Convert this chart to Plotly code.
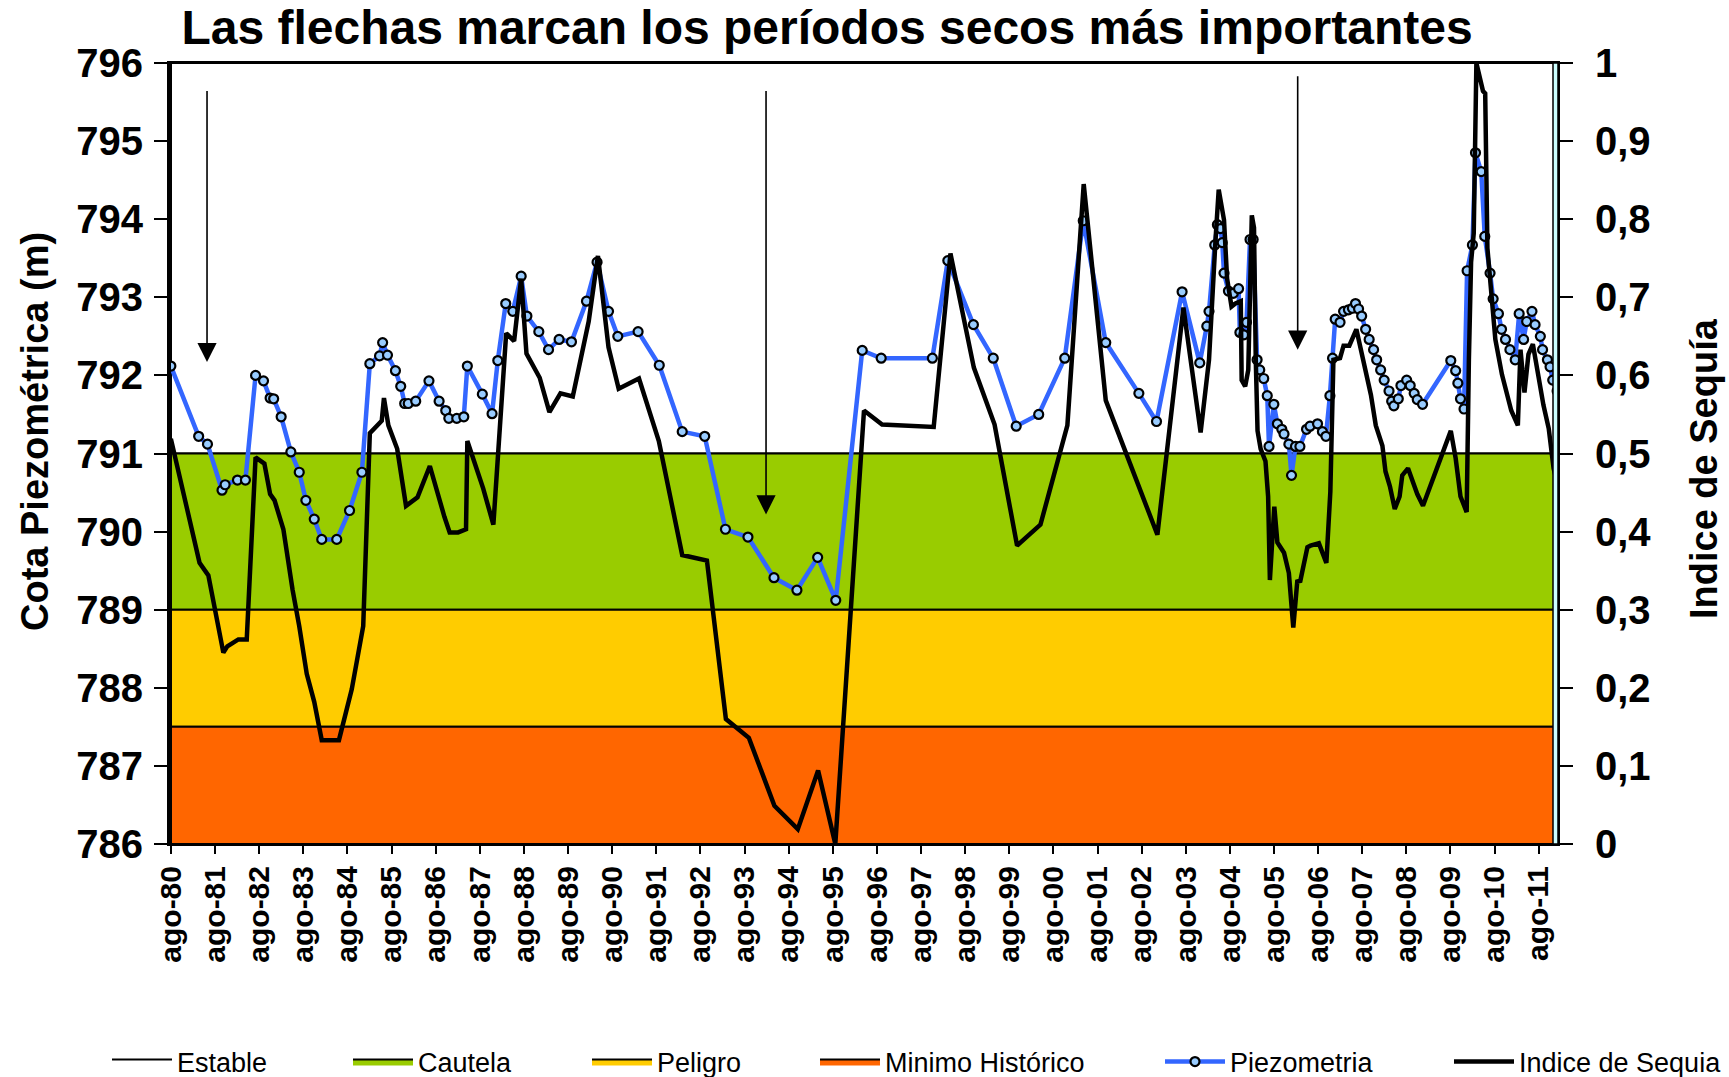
import plotly.graph_objects as go

# ---------------------------------------------------------------
# Datos
# ---------------------------------------------------------------
# Piezometría: fecha (año decimal) y cota piezométrica (m)
piezo_fecha = [
    1980.58, 1981.21, 1981.41, 1981.74, 1981.81, 1982.09, 1982.27, 1982.50, 1982.68, 1982.83,
    1982.91, 1983.08, 1983.30, 1983.49, 1983.64, 1983.83, 1984.00, 1984.34, 1984.63, 1984.91,
    1985.09, 1985.31, 1985.38, 1985.49, 1985.67, 1985.79, 1985.88, 1985.96, 1986.13, 1986.43,
    1986.66, 1986.81, 1986.88, 1987.06, 1987.22, 1987.30, 1987.64, 1987.86, 1987.99, 1988.17,
    1988.33, 1988.52, 1988.65, 1988.92, 1989.14, 1989.38, 1989.66, 1990.00, 1990.24, 1990.50,
    1990.71, 1991.17, 1991.65, 1992.17, 1992.68, 1993.15, 1993.66, 1994.25, 1994.77, 1995.24,
    1995.65, 1996.25, 1996.68, 1997.84, 1998.19, 1998.77, 1999.22, 1999.74, 2000.25, 2000.84,
    2001.26, 2001.77, 2002.52, 2002.92, 2003.50, 2003.90, 2004.06, 2004.11, 2004.24, 2004.30,
    2004.37, 2004.41, 2004.45, 2004.55, 2004.66, 2004.78, 2004.81, 2004.90, 2004.96, 2005.04,
    2005.11, 2005.20, 2005.26, 2005.35, 2005.43, 2005.47, 2005.58, 2005.66, 2005.76, 2005.81,
    2005.92, 2005.98, 2006.07, 2006.17, 2006.32, 2006.40, 2006.57, 2006.68, 2006.76, 2006.85,
    2006.91, 2006.97, 2007.08, 2007.16, 2007.27, 2007.36, 2007.43, 2007.50, 2007.57, 2007.66,
    2007.74, 2007.84, 2007.91, 2008.00, 2008.08, 2008.19, 2008.25, 2008.30, 2008.40, 2008.46,
    2008.59, 2008.67, 2008.76, 2008.83, 2008.95, 2009.59, 2009.70, 2009.75, 2009.81, 2009.89,
    2009.96, 2010.08, 2010.15, 2010.28, 2010.36, 2010.48, 2010.55, 2010.67, 2010.74, 2010.83,
    2010.93, 2011.05, 2011.14, 2011.24, 2011.31, 2011.43, 2011.50, 2011.62, 2011.67, 2011.78,
    2011.84, 2011.90, 2012.00,
]
piezo_cota = [
    792.12, 791.22, 791.12, 790.53, 790.60, 790.66, 790.66, 792.00, 791.93, 791.71,
    791.70, 791.47, 791.02, 790.76, 790.40, 790.16, 789.90, 789.90, 790.27, 790.76,
    792.15, 792.25, 792.42, 792.26, 792.06, 791.86, 791.64, 791.64, 791.67, 791.93,
    791.67, 791.55, 791.45, 791.45, 791.47, 792.12, 791.76, 791.51, 792.19, 792.92,
    792.82, 793.27, 792.76, 792.56, 792.33, 792.46, 792.43, 792.95, 793.45, 792.82,
    792.50, 792.56, 792.13, 791.28, 791.22, 790.03, 789.93, 789.41, 789.25, 789.67,
    789.12, 792.32, 792.22, 792.22, 793.47, 792.65, 792.22, 791.35, 791.50, 792.22,
    793.98, 792.42, 791.77, 791.41, 793.07, 792.16, 792.63, 792.82, 793.67, 793.93,
    793.88, 793.70, 793.31, 793.08, 793.05, 793.11, 792.55, 792.52, 792.68, 793.74,
    793.74, 792.20, 792.07, 791.96, 791.74, 791.09, 791.63, 791.38, 791.31, 791.25,
    791.12, 790.72, 791.09, 791.09, 791.31, 791.35, 791.38, 791.28, 791.22, 791.74,
    792.22, 792.72, 792.68, 792.82, 792.84, 792.86, 792.92, 792.85, 792.76, 792.59,
    792.46, 792.33, 792.20, 792.07, 791.94, 791.80, 791.67, 791.61, 791.70, 791.87,
    791.94, 791.87, 791.77, 791.69, 791.63, 792.19, 792.06, 791.90, 791.70, 791.57,
    793.34, 793.67, 794.85, 794.61, 793.78, 793.31, 792.98, 792.79, 792.59, 792.46,
    792.33, 792.20, 792.79, 792.46, 792.69, 792.82, 792.65, 792.50, 792.33, 792.20,
    792.11, 791.94, 791.80,
]

# Índice de sequía: fecha (año decimal) y valor (0-1)
sequia_fecha = [
    1980.58, 1981.23, 1981.43, 1981.77, 1981.86, 1982.11, 1982.30, 1982.50, 1982.70, 1982.83,
    1982.93, 1983.13, 1983.34, 1983.49, 1983.66, 1983.83, 1984.00, 1984.39, 1984.68, 1984.94,
    1985.09, 1985.36, 1985.41, 1985.51, 1985.71, 1985.91, 1986.17, 1986.45, 1986.78, 1986.90,
    1987.09, 1987.27, 1987.30, 1987.66, 1987.89, 1988.18, 1988.36, 1988.52, 1988.64, 1988.94,
    1989.16, 1989.41, 1989.69, 1990.05, 1990.26, 1990.50, 1990.73, 1991.19, 1991.64, 1992.17,
    1992.73, 1993.16, 1993.68, 1994.26, 1994.79, 1995.25, 1995.64, 1996.29, 1996.70, 1997.87,
    1998.25, 1998.78, 1999.25, 1999.76, 2000.29, 2000.90, 2001.27, 2001.77, 2002.94, 2003.53,
    2003.92, 2004.11, 2004.26, 2004.33, 2004.45, 2004.52, 2004.62, 2004.71, 2004.83, 2004.85,
    2004.93, 2005.00, 2005.08, 2005.13, 2005.17, 2005.21, 2005.28, 2005.39, 2005.45, 2005.49,
    2005.59, 2005.66, 2005.81, 2005.92, 2006.02, 2006.11, 2006.18, 2006.34, 2006.41, 2006.60,
    2006.77, 2006.86, 2006.93, 2007.08, 2007.16, 2007.29, 2007.45, 2007.55, 2007.78, 2007.89,
    2008.04, 2008.11, 2008.21, 2008.32, 2008.43, 2008.49, 2008.62, 2008.83, 2008.96, 2009.59,
    2009.70, 2009.81, 2009.95, 2010.00, 2010.05, 2010.11, 2010.17, 2010.32, 2010.37, 2010.42,
    2010.55, 2010.60, 2010.75, 2010.85, 2010.96, 2011.11, 2011.17, 2011.26, 2011.35, 2011.45,
    2011.58, 2011.69, 2011.81, 2011.92, 2012.01,
]
sequia_indice = [
    0.519, 0.360, 0.344, 0.245, 0.253, 0.262, 0.262, 0.495, 0.487, 0.448,
    0.440, 0.403, 0.325, 0.279, 0.218, 0.182, 0.133, 0.133, 0.198, 0.279,
    0.526, 0.542, 0.571, 0.536, 0.506, 0.433, 0.444, 0.484, 0.419, 0.399,
    0.399, 0.403, 0.516, 0.455, 0.409, 0.654, 0.644, 0.724, 0.628, 0.597,
    0.553, 0.577, 0.573, 0.669, 0.753, 0.636, 0.583, 0.596, 0.516, 0.370,
    0.363, 0.160, 0.136, 0.049, 0.019, 0.094, 0.000, 0.555, 0.537, 0.534,
    0.756, 0.610, 0.537, 0.382, 0.409, 0.536, 0.845, 0.568, 0.396, 0.687,
    0.527, 0.620, 0.776, 0.838, 0.799, 0.724, 0.688, 0.692, 0.695, 0.594,
    0.586, 0.607, 0.805, 0.789, 0.620, 0.529, 0.506, 0.490, 0.445, 0.338,
    0.432, 0.386, 0.373, 0.347, 0.277, 0.336, 0.337, 0.380, 0.382, 0.385,
    0.360, 0.451, 0.620, 0.622, 0.638, 0.638, 0.659, 0.633, 0.575, 0.536,
    0.510, 0.477, 0.458, 0.429, 0.445, 0.472, 0.481, 0.448, 0.433, 0.529,
    0.494, 0.445, 0.425, 0.620, 0.745, 0.782, 1.000, 0.964, 0.961, 0.763,
    0.679, 0.646, 0.601, 0.581, 0.555, 0.536, 0.633, 0.578, 0.627, 0.640,
    0.597, 0.562, 0.532, 0.481, 0.461,
]

# Umbrales de estado (cota, m)
estado_nombre = ["Estable", "Cautela", "Peligro", "Minimo Histórico"]
estado_inferior = [791.0, 789.0, 787.5, 786.0]
estado_superior = [796.0, 791.0, 789.0, 787.5]
estado_color = ["#FFFFFF", "#99CC00", "#FFCC00", "#FF6600"]

# Periodos secos señalados con flechas (fecha, cota de la punta, cota de la cola)
flecha_fecha = [1981.40, 1994.07, 2006.12]
flecha_punta = [792.17, 790.22, 792.33]
flecha_cola = [795.66, 795.66, 795.85]

# Ejes
anios = list(range(1980, 2012))
eje_x_pos = [a + 7 / 12 for a in anios]
eje_x_texto = [f"ago-{a % 100:02d}" for a in anios]
eje_y2_pos = [i / 10 for i in range(11)]
eje_y2_texto = ["0", "0,1", "0,2", "0,3", "0,4", "0,5", "0,6", "0,7", "0,8", "0,9", "1"]

X_MIN, X_MAX = 1980 + 7 / 12, 2012.02
FONT = "Liberation Sans, Arial, sans-serif"

# ---------------------------------------------------------------
# Figura
# ---------------------------------------------------------------
W, H = 1729, 1077
L, R, T, B = 171, 171, 63, 233
plot_w = W - L - R
plot_h = H - T - B

fig = go.Figure()

leyendas = ["legend", "legend2", "legend3", "legend4", "legend5", "legend6"]

for i, nombre in enumerate(estado_nombre):
    lo, hi = estado_inferior[i], estado_superior[i]
    fig.add_trace(go.Scatter(
        x=[X_MIN, X_MAX, X_MAX, X_MIN, X_MIN],
        y=[lo, lo, hi, hi, lo],
        mode="lines",
        fill="toself",
        fillcolor=estado_color[i],
        line=dict(color="black", width=2),
        name=nombre,
        legend=leyendas[i],
        showlegend=True,
        hoverinfo="skip",
    ))

fig.add_trace(go.Scatter(
    x=piezo_fecha, y=piezo_cota,
    mode="lines+markers",
    name="Piezometria",
    line=dict(color="#3366FF", width=4.5),
    marker=dict(symbol="circle", size=9, color="#99CCFF",
                line=dict(color="black", width=2.2)),
    legend="legend5",
    showlegend=True,
))

fig.add_trace(go.Scatter(
    x=sequia_fecha, y=sequia_indice,
    mode="lines",
    name="Indice de Sequia",
    line=dict(color="black", width=4.5),
    yaxis="y2",
    legend="legend6",
    showlegend=True,
))

# Flechas de periodos secos
for fx, fp, fc in zip(flecha_fecha, flecha_punta, flecha_cola):
    fig.add_annotation(
        x=fx, y=fp, ax=fx, ay=fc,
        xref="x", yref="y", axref="x", ayref="y",
        showarrow=True, arrowhead=2, arrowsize=2.4, arrowwidth=1.6,
        arrowcolor="black", text="",
    )

# Títulos de los ejes verticales
titulo_font = dict(family=FONT, size=38, color="black", weight="bold")
fig.add_annotation(
    text="Cota Piezométrica (m)", textangle=-90,
    xref="paper", yref="paper",
    x=(35 - L) / plot_w, y=(T + plot_h - 432) / plot_h,
    xanchor="center", yanchor="middle", showarrow=False,
    font=titulo_font,
)
fig.add_annotation(
    text="Indice de Sequía", textangle=-90,
    xref="paper", yref="paper",
    x=(1704 - L) / plot_w, y=(T + plot_h - 469) / plot_h,
    xanchor="center", yanchor="middle", showarrow=False,
    font=titulo_font,
)

# Borde derecho doble
fig.add_shape(type="rect", xref="paper", yref="paper",
              x0=1 - 5 / plot_w, x1=1, y0=0, y1=1,
              fillcolor="#CCFFFF", line=dict(color="black", width=1.5),
              layer="above")

tick_font = dict(family=FONT, size=40, color="black", weight="bold")

fig.update_layout(
    width=W, height=H,
    margin=dict(l=L, r=R, t=T, b=B, autoexpand=False),
    paper_bgcolor="white",
    plot_bgcolor="white",
    showlegend=True,
    title=dict(
        text="Las flechas marcan los períodos secos más importantes",
        font=dict(family=FONT, size=48, color="black", weight="bold"),
        x=827 / W, xanchor="center", xref="container",
        y=1 - 27 / H, yanchor="middle", yref="container",
    ),
    xaxis=dict(
        range=[X_MIN, X_MAX],
        tickmode="array", tickvals=eje_x_pos, ticktext=eje_x_texto,
        tickangle=-90,
        tickfont=dict(family=FONT, size=30, color="black", weight="bold"),
        ticks="outside", ticklen=8, tickwidth=1.5, tickcolor="black",
        showline=True, linecolor="black", linewidth=2, mirror=True,
        showgrid=False, zeroline=False,
    ),
    yaxis=dict(
        range=[786, 796],
        tickmode="array", tickvals=list(range(786, 797)),
        ticktext=[str(v) for v in range(786, 797)],
        tickfont=tick_font,
        ticks="outside", ticklen=13, tickwidth=1.5, tickcolor="black",
        ticklabelstandoff=3,
        showline=True, linecolor="black", linewidth=4,
        showgrid=False, zeroline=False,
    ),
    yaxis2=dict(
        range=[0, 1], overlaying="y", side="right",
        tickmode="array", tickvals=eje_y2_pos, ticktext=eje_y2_texto,
        tickfont=tick_font,
        ticks="outside", ticklen=13, tickwidth=1.5, tickcolor="black",
        ticklabelstandoff=14,
        showline=True, linecolor="black", linewidth=2,
        showgrid=False, zeroline=False,
    ),
)

# Leyendas individuales alineadas en una fila bajo el gráfico
texto_x = [176, 417, 656, 884, 1229, 1518]
ICONO = 60
for nombre_ley, tx in zip(leyendas, texto_x):
    fig.update_layout({nombre_ley: dict(
        x=(tx - 39 - (ICONO - 30)) / W, y=1 - 1062 / H,
        xref="container", yref="container",
        xanchor="left", yanchor="middle",
        orientation="h",
        itemwidth=ICONO,
        bgcolor="rgba(0,0,0,0)",
        font=dict(family=FONT, size=27, color="black"),
    )})

fig.write_html("out.html")
